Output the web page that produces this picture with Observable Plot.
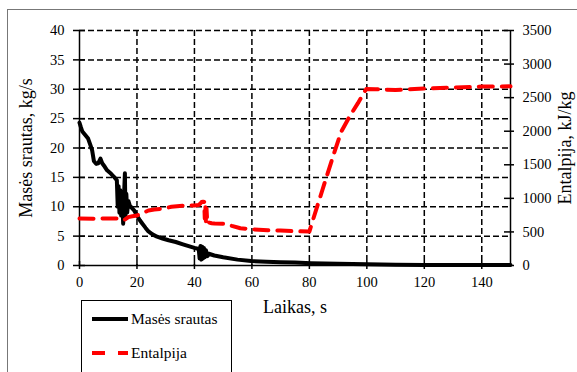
<!DOCTYPE html>
<html>
<head>
<meta charset="utf-8">
<script src="https://cdn.jsdelivr.net/npm/d3@7"></script>
<script src="https://cdn.jsdelivr.net/npm/@observablehq/plot@0.6"></script>
<style>
  html, body { margin: 0; padding: 0; background: white; }
  #wrap { position: relative; width: 577px; height: 372px; overflow: hidden; font-family: "Liberation Serif", "Times New Roman", Times, "DejaVu Serif", serif; }
  #border { position: absolute; left: 7px; top: 9px; width: 700px; height: 500px; border-left: 1.5px solid #777; border-top: 1.5px solid #777; pointer-events: none; }
  #legend { position: absolute; left: 81px; top: 300px; width: 149px; height: 90px; border: 1.5px solid black; background: white; }
  .li { position: absolute; left: 9px; display: flex; align-items: center; font-size: 15.5px; color: black; }
  .li svg { display: block; margin-right: 2px; }
  svg [aria-label$="axis label"] { font-size: 18px; }
  svg text { font-family: "Liberation Serif", "Times New Roman", Times, "DejaVu Serif", serif; }
</style>
</head>
<body>
<div id="wrap">
  <div id="chart"></div>
  <div id="border"></div>
  <div id="legend"></div>
</div>
<script>
// ---- data ----
const xTicks = [0, 20, 40, 60, 80, 100, 120, 140];
const leftTicks = [0, 5, 10, 15, 20, 25, 30, 35, 40];
const rightTicks = [0, 500, 1000, 1500, 2000, 2500, 3000, 3500];

const seriesNames = ["Masės srautas", "Entalpija"];

// Masės srautas, kg/s
const massT = [0, 0.5, 1, 2, 3, 3.8, 4.4, 5, 5.8, 6.5, 7.3, 7.9, 8.8, 9.6, 11, 12, 13, 13.3, 13.6, 13.9, 14.2, 14.5, 14.8, 15.2, 15.5, 15.8, 16.0, 16.3, 16.6, 17, 17.5, 18.2, 19, 20, 21, 21.9, 23, 24, 25.4, 27, 28.9, 31, 33.5, 36, 38, 40, 41.5, 41.8, 42.1, 42.4, 42.7, 43, 43.3, 43.6, 44, 44.5, 45, 46.9, 50, 55, 59.7, 65, 70, 75, 80.6, 90, 100, 110, 120, 130, 140, 150];
const massV = [24.3, 23.5, 22.8, 22.2, 21.6, 20.5, 19.6, 17.8, 17.3, 17.4, 18.2, 17.4, 16.8, 16.2, 15.6, 15.1, 14.5, 10, 13.5, 9, 12.8, 8.5, 12.5, 7.1, 12, 15.7, 8.5, 12.2, 9, 11, 10.2, 9.8, 9.4, 8.5, 7.7, 7.1, 6.4, 5.8, 5.3, 4.9, 4.6, 4.3, 4.0, 3.6, 3.3, 3.0, 2.8, 1.2, 3.3, 1.0, 3.2, 1.2, 3.0, 1.4, 2.6, 1.6, 2.0, 1.7, 1.4, 1.0, 0.75, 0.65, 0.57, 0.5, 0.4, 0.3, 0.2, 0.12, 0.1, 0.1, 0.1, 0.1];

// Entalpija, kJ/kg
const entT = [0, 5, 10, 13, 14, 15, 16, 17, 18.4, 20, 22, 24, 26, 29, 32, 36, 40, 41.5, 42, 42.5, 43, 43.4, 43.6, 43.8, 44.0, 44.2, 44.5, 45, 46, 47, 51, 53, 56, 60, 65.5, 70, 75.4, 80, 81.2, 84.7, 88.2, 91.1, 94, 96.9, 99.8, 103, 110, 120, 130, 140, 150];
const entH = [700, 698, 700, 700, 690, 670, 690, 720, 733, 745, 780, 820, 835, 845, 875, 890, 895, 900, 920, 945, 950, 945, 700, 900, 650, 850, 620, 640, 630, 625, 620, 590, 555, 540, 525, 520, 510, 505, 673, 1147, 1620, 1994, 2220, 2418, 2628, 2625, 2615, 2635, 2650, 2665, 2668];

// ---- build ----
const leftMax = 40, rightMax = 3500, k = leftMax / rightMax;
const massRows = massT.map((t, i) => ({t, v: massV[i]}));
const entRows = entT.map((t, i) => ({t, h: entH[i]}));
const rightTickPos = rightTicks.map(h => h * k);

const gridStyle = {stroke: "black", strokeOpacity: 1, strokeWidth: 1.5, strokeDasharray: "6,3"};
const fs = 14.5;
const blank = () => "";

const chart = Plot.plot({
  width: 577,
  height: 372,
  marginLeft: 79,
  marginRight: 67,
  marginTop: 30,
  marginBottom: 107,
  style: {fontFamily: "'Liberation Serif', 'Times New Roman', Times, 'DejaVu Serif', serif", fontSize: "14.5px", color: "black", background: "white", overflow: "visible"},
  x: {domain: [0, 150]},
  y: {domain: [0, leftMax]},
  marks: [
    Plot.gridX(xTicks.filter(d => d > 0), gridStyle),
    Plot.gridY(leftTicks.filter(d => d > 0), gridStyle),
    Plot.ruleX([0, 150], {stroke: "black", strokeWidth: 1.5}),
    Plot.ruleY([0], {stroke: "black", strokeWidth: 1.5}),
    // inward tick halves
    Plot.axisX(xTicks, {anchor: "bottom", tickSize: 4, dy: -4, strokeWidth: 1.5, tickFormat: blank, label: null}),
    Plot.axisY(leftTicks, {anchor: "left", tickSize: 6, dx: 6, strokeWidth: 1.5, tickFormat: blank, label: null}),
    Plot.axisY(rightTickPos, {anchor: "right", tickSize: 7, dx: -7, strokeWidth: 1.5, tickFormat: blank, label: null}),
    // main axes
    Plot.axisX(xTicks, {anchor: "bottom", fontSize: fs, tickSize: 4, tickPadding: 7, strokeWidth: 1.5, label: "Laikas, s", labelArrow: "none", labelAnchor: "center", labelOffset: 47}),
    Plot.axisY(leftTicks, {anchor: "left", fontSize: fs, tickSize: 6, tickPadding: 9, strokeWidth: 1.5, label: "Masės srautas, kg/s", labelArrow: "none", labelAnchor: "center", labelOffset: 60}),
    Plot.axisY(rightTickPos, {anchor: "right", fontSize: fs, tickSize: 3, tickPadding: 9, strokeWidth: 1.5, tickFormat: d => String(Math.round(d / k)), label: "Entalpija, kJ/kg", labelArrow: "none", labelAnchor: "center", labelOffset: 60}),
    Plot.line(massRows, {x: "t", y: "v", stroke: "black", strokeWidth: 4, strokeLinejoin: "round"}),
    Plot.line(entRows, {x: "t", y: d => d.h * k, stroke: "red", strokeWidth: 4, strokeDasharray: "14,9"})
  ]
});
document.getElementById("chart").appendChild(chart);

// ---- legend ----
const legend = document.getElementById("legend");
const styles = [
  {stroke: "black", dash: null, top: 8},
  {stroke: "red", dash: "13,13", top: 42}
];
seriesNames.forEach((name, i) => {
  const s = styles[i];
  const div = document.createElement("div");
  div.className = "li";
  div.style.top = s.top + "px";
  const svg = d3.create("svg").attr("width", 38).attr("height", 20);
  svg.append("line").attr("x1", 1).attr("x2", 37).attr("y1", 10).attr("y2", 10)
    .attr("stroke", s.stroke).attr("stroke-width", 4)
    .attr("stroke-dasharray", s.dash);
  div.appendChild(svg.node());
  const span = document.createElement("span");
  span.textContent = name;
  div.appendChild(span);
  legend.appendChild(div);
});
</script>
</body>
</html>
